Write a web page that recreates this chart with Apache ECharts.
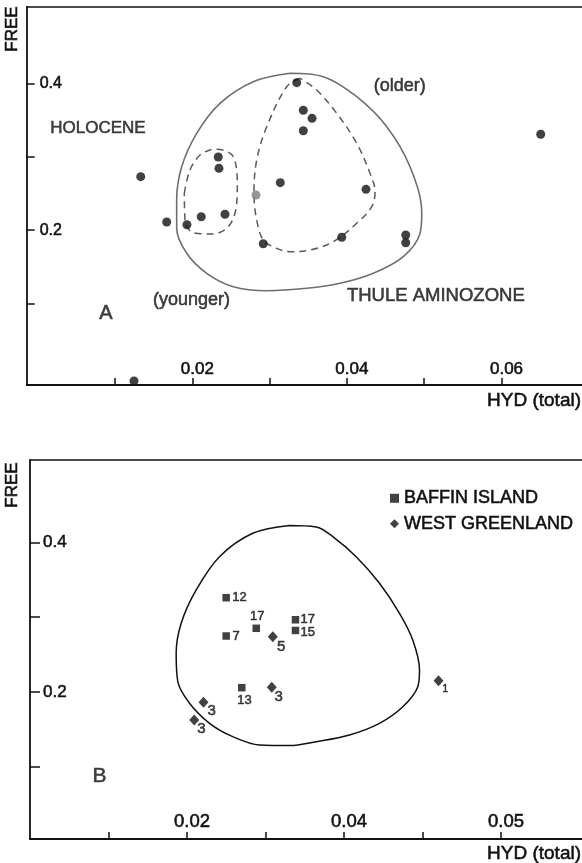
<!DOCTYPE html>
<html><head><meta charset="utf-8">
<script src="https://cdn.jsdelivr.net/npm/echarts@6/dist/echarts.min.js"></script>
<style>html,body{margin:0;padding:0;background:#fff}#c{width:582px;height:863px}</style>
</head><body><div id="c"></div>
<script>
// ---------- Panel A data ----------
const aHydX  = [0.01333,0.01669,0.01931,0.02116,0.02336,0.02345,0.02423,0.02918,0.03138,0.03351,0.03436,0.03549,0.03436,0.04247,0.03933,0.04761,0.04761,0.06507,0.01246];
const aFreeY = [0.2730,0.2111,0.2074,0.2183,0.2999,0.2844,0.2216,0.1814,0.2648,0.4014,0.3637,0.3527,0.3358,0.2557,0.1902,0.1933,0.1828,0.3309,-0.0061];
const aGrayHydX  = [0.02824];
const aGrayFreeY = [0.2480];
// Thule aminozone envelope (solid)
const aThuleX = [0.03264,0.03695,0.04127,0.04515,0.04816,0.04968,0.04946,0.04730,0.04342,0.03911,0.03480,0.02963,0.02530,0.02186,0.01928,0.01798,0.01798,0.01863,0.02057,0.02358,0.02789,0.03264];
const aThuleY = [0.4142,0.4096,0.3822,0.3413,0.2866,0.2230,0.1956,0.1637,0.1410,0.1273,0.1205,0.1172,0.1227,0.1410,0.1683,0.2025,0.2411,0.2866,0.3322,0.3732,0.4027,0.4142];
// younger (dashed)
const aYoungerX = [0.01897,0.01970,0.02100,0.02229,0.02316,0.02530,0.02582,0.02552,0.02445,0.02251,0.02013,0.01906,0.01897];
const aYoungerY = [0.2503,0.2821,0.3026,0.3094,0.3104,0.3003,0.2593,0.2230,0.2025,0.1947,0.1964,0.2138,0.2503];
// older (dashed)
const aOlderX = [0.03393,0.03221,0.02963,0.02833,0.02798,0.02833,0.02919,0.03092,0.03264,0.03523,0.03824,0.04127,0.04321,0.04364,0.04299,0.04127,0.03868,0.03609,0.03393];
const aOlderY = [0.4074,0.3959,0.3413,0.2958,0.2503,0.2138,0.1865,0.1751,0.1705,0.1728,0.1842,0.2093,0.2320,0.2525,0.2776,0.3186,0.3596,0.3914,0.4074];
// annotations
const aNoteText = ['HOLOCENE','(younger)','(older)','THULE AMINOZONE','A'];
const aNoteX = [0.0078,0.0199,0.04683,0.0515,0.00884];
const aNoteY = [0.3391,0.1045,0.3969,0.1100,0.0867];
const aNoteSize = [17,18,18,18.5,20];

// ---------- Panel B data ----------
const bBaffinX = [0.02499,0.02499,0.02882,0.02698,0.03382,0.03382];
const bBaffinY = [0.3259,0.2747,0.2850,0.2056,0.2964,0.2821];
const bBaffinN = [12,7,17,13,17,15];
const bGreenX = [0.03093,0.03080,0.02210,0.02092,0.05204];
const bGreenY = [0.2738,0.2062,0.1862,0.1625,0.2149];
const bGreenN = [5,3,3,3,1];
const bOutlineX = [0.03306,0.03646,0.03857,0.04155,0.04452,0.04707,0.04876,0.04962,0.04940,0.04749,0.04452,0.04070,0.03646,0.03306,0.02924,0.02583,0.02287,0.02032,0.01883,0.01862,0.01926,0.02117,0.02414,0.02838,0.03306];
const bOutlineY = [0.4225,0.4205,0.4075,0.3807,0.3452,0.3051,0.2694,0.2293,0.2070,0.1802,0.1580,0.1424,0.1334,0.1283,0.1290,0.1401,0.1580,0.1848,0.2136,0.2516,0.2917,0.3362,0.3807,0.4120,0.4225];
const bNoteText = ['B'];
const bNoteX = [0.00885];
const bNoteY = [0.0866];

// ---------- ticks ----------
const aXTicks = [0.01,0.02,0.03,0.04,0.05,0.06];
const aXLabelVals = [0.02,0.04,0.06];
const aXLabels = ['0.02','0.04','0.06'];
const aYTicks = [0.1,0.2,0.3,0.4];
const aYLabelVals = [0.2,0.4];
const aYLabels = ['0.2','0.4'];
const bXTicks = [0.01,0.02,0.03,0.04,0.05,0.06];
const bXLabelVals = [0.02,0.04,0.06];
const bXLabels = ['0.02','0.04','0.05'];
const bYTicks = [0.1,0.2,0.3,0.4];
const bYLabelVals = [0.2,0.4];
const bYLabels = ['0.2','0.4'];

// ---------- styles (separate from data) ----------
const FONT = "'Liberation Sans', Arial, sans-serif";
const INK = '#111111';
const HEAVY = {textBorderColor: INK, textBorderWidth: 0.55};
const bBaffinLabelOffset = [[13.3,0],[10,0],[1,-12.3],[2.7,13],[12.3,-0.6],[12.3,2.3]];
const bGreenLabelOffset = [[8.4,10],[7,10],[8.3,8.4],[7.3,9.3],[6.7,8.6]];
const bGreenLabelSize = [15,15,15,15,10];

const pairs = (xs, ys) => xs.map((x, i) => [x, ys[i]]);
const lookup = (vals, labels) => v => {
  const i = vals.findIndex(t => Math.abs(t - v) < 1e-9);
  return i < 0 ? '' : labels[i];
};

function valueXAxis(grid, min, max, ticks, labelVals, labels, fs, margin) {
  return {
    type: 'value', gridIndex: grid, position: 'bottom', min, max,
    splitLine: {show: false},
    axisLine: {show: true, onZero: false, lineStyle: {color: INK, width: 1.8}},
    axisTick: {show: true, inside: true, length: 7, customValues: ticks, lineStyle: {color: INK, width: 1.5}},
    axisLabel: Object.assign({show: true, inside: true, margin, customValues: labelVals, formatter: lookup(labelVals, labels),
      color: INK, fontSize: fs, fontFamily: FONT, padding: [0,0,0,10]}, HEAVY)
  };
}
function topFrame(grid, min, max) {
  return {type: 'value', gridIndex: grid, position: 'top', min, max,
    splitLine: {show: false}, axisTick: {show: false}, axisLabel: {show: false},
    axisLine: {show: true, onZero: false, lineStyle: {color: INK, width: 1.5}}};
}
function valueYAxis(grid, min, max, ticks, labelVals, labels, fs, tickLen) {
  return {
    type: 'value', gridIndex: grid, min, max,
    splitLine: {show: false},
    axisLine: {show: true, onZero: false, lineStyle: {color: INK, width: 1.8}},
    axisTick: {show: true, inside: true, length: tickLen, customValues: ticks, lineStyle: {color: INK, width: 1.5}},
    axisLabel: Object.assign({show: true, inside: true, margin: 13, customValues: labelVals, formatter: lookup(labelVals, labels),
      color: INK, fontSize: fs, fontFamily: FONT}, HEAVY)
  };
}
function loop(name, xa, yi, xs, ys, color, type, width) {
  return {type: 'line', name, xAxisIndex: xa, yAxisIndex: yi, data: pairs(xs, ys),
    smooth: 0.35, symbol: 'none', silent: true, z: 1,
    lineStyle: {color, width, type}};
}
function notes(xa, yi, texts, xs, ys, sizes) {
  return {type: 'scatter', xAxisIndex: xa, yAxisIndex: yi, symbolSize: 0.1, silent: true,
    itemStyle: {color: 'transparent'},
    data: texts.map((t, i) => ({value: [xs[i], ys[i]], label: {formatter: t, fontSize: sizes[i]}})),
    label: Object.assign({show: true, position: 'inside', align: 'center', verticalAlign: 'middle', color: INK, fontFamily: FONT}, HEAVY)};
}
function gtext(x, y, text, size, align, rot) {
  return {type: 'text', x, y, rotation: rot || 0,
    style: {text, fill: INK, stroke: INK, lineWidth: 0.55, font: size + 'px ' + FONT, align, verticalAlign: 'middle'}};
}

const aXMin = -0.00142, aXMax = 0.07041, aYMin = -0.0116, aYMax = 0.5048;
const bXMin = 0, bXMax = 0.07032, bYMin = 0.0033, bYMax = 0.510;

const chart = echarts.init(document.getElementById('c'), null, {renderer: 'canvas'});
chart.setOption({
  backgroundColor: '#fff',
  animation: false,
  grid: [
    {left: 26.7, top: 7, right: 0, height: 378},
    {left: 30, top: 460, right: 0, height: 379}
  ],
  xAxis: [
    valueXAxis(0, aXMin, aXMax, aXTicks, aXLabelVals, aXLabels, 17, 7),
    topFrame(0, aXMin, aXMax),
    valueXAxis(1, bXMin, bXMax, bXTicks, bXLabelVals, bXLabels, 18.5, 8),
    topFrame(1, bXMin, bXMax)
  ],
  yAxis: [
    valueYAxis(0, aYMin, aYMax, aYTicks, aYLabelVals, aYLabels, 16, 8),
    valueYAxis(1, bYMin, bYMax, bYTicks, bYLabelVals, bYLabels, 17, 10)
  ],
  legend: {
    show: true, orient: 'vertical', left: 390, top: 489, padding: 0, itemGap: 7,
    itemWidth: 9, itemHeight: 9, selectedMode: false,
    textStyle: Object.assign({color: INK, fontSize: 18, fontFamily: FONT}, HEAVY),
    data: [{name: 'BAFFIN ISLAND', icon: 'rect'}, {name: 'WEST GREENLAND', icon: 'diamond'}]
  },
  graphic: [
    gtext(12.5, 29, 'FREE', 17, 'center', Math.PI / 2),
    gtext(12.5, 485, 'FREE', 17, 'center', Math.PI / 2),
    gtext(581, 401, 'HYD (total)', 19, 'right'),
    gtext(581, 854, 'HYD (total)', 19, 'right')
  ],
  series: [
    loop('thule', 0, 0, aThuleX, aThuleY, '#6e6e6e', 'solid', 1.6),
    loop('younger', 0, 0, aYoungerX, aYoungerY, '#5a5a5a', [7, 5], 1.5),
    loop('older', 0, 0, aOlderX, aOlderY, '#5a5a5a', [7, 5], 1.5),
    {type: 'scatter', name: 'A', xAxisIndex: 0, yAxisIndex: 0, data: pairs(aHydX, aFreeY),
      symbol: 'circle', symbolSize: 9, clip: false, itemStyle: {color: INK}, z: 3},
    {type: 'scatter', name: 'A gray', xAxisIndex: 0, yAxisIndex: 0, data: pairs(aGrayHydX, aGrayFreeY),
      symbol: 'circle', symbolSize: 9, itemStyle: {color: '#7c7c7c'}, z: 3},
    notes(0, 0, aNoteText, aNoteX, aNoteY, aNoteSize),
    loop('outlineB', 2, 1, bOutlineX, bOutlineY, INK, 'solid', 1.5),
    {type: 'scatter', name: 'BAFFIN ISLAND', xAxisIndex: 2, yAxisIndex: 1, symbol: 'rect', symbolSize: 7.5,
      itemStyle: {color: INK}, z: 3,
      label: Object.assign({show: true, position: 'inside', align: 'center', verticalAlign: 'middle', color: INK, fontFamily: FONT, fontSize: 13}, HEAVY),
      data: bBaffinX.map((x, i) => ({value: [x, bBaffinY[i]],
        label: {formatter: String(bBaffinN[i]), offset: bBaffinLabelOffset[i]}}))},
    {type: 'scatter', name: 'WEST GREENLAND', xAxisIndex: 2, yAxisIndex: 1, symbol: 'diamond', symbolSize: [10, 11],
      itemStyle: {color: INK}, z: 3,
      label: Object.assign({show: true, position: 'inside', align: 'center', verticalAlign: 'middle', color: INK, fontFamily: FONT}, HEAVY),
      data: bGreenX.map((x, i) => ({value: [x, bGreenY[i]],
        label: {formatter: String(bGreenN[i]), offset: bGreenLabelOffset[i], fontSize: bGreenLabelSize[i]}}))},
    notes(2, 1, bNoteText, bNoteX, bNoteY, [21])
  ]
});
</script></body></html>
